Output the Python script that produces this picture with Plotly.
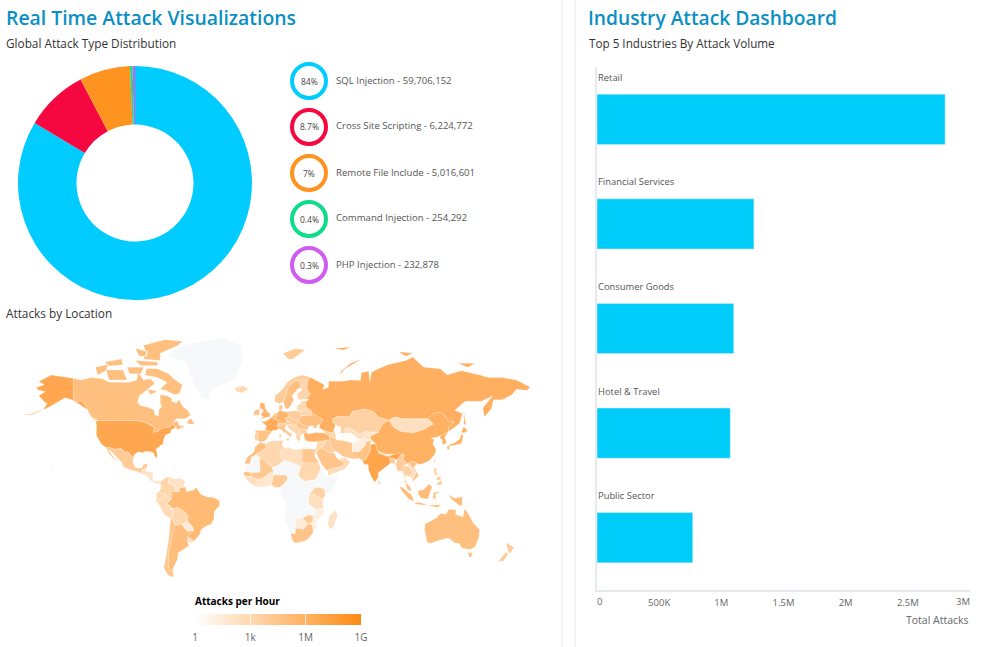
import math
import plotly.graph_objects as go

FONT = "Open Sans"
attack_types = ["SQL Injection", "Cross Site Scripting", "Remote File Include", "Command Injection", "PHP Injection"]
attack_counts = [59706152, 6224772, 5016601, 254292, 232878]
attack_pct = ["84%", "8.7%", "7%", "0.4%", "0.3%"]
attack_colors = ["#00ccff", "#f5073f", "#ff9320", "#0fdc8c", "#d05cf0"]

industries = ["Retail", "Financial Services", "Consumer Goods", "Hotel &amp; Travel", "Public Sector"]
industry_values = [2800000, 1262000, 1100000, 1072000, 770000]

# log10(attacks per hour) per country, read from the tint; None = no data. Outlines: "lon,lat ..." with | between parts.
map_data = [
("Canada",4.9,"-141,69.6 -135,69 -128,70 -120,69.5 -115,68 -108,68 -100,68 -95,69 -94,72 -90,69 -85,69.5 -82,67.5 -87,65 -93,62 -94.5,59 -92.5,57 -88,56.5 -82.5,55 -82,52.5 -79.5,51.3 -79,53 -79,55 -77,56.5 -78,59 -78,62.4 -73,62 -70,61 -69.5,59 -66,58.5 -64.5,60.2 -61.5,56.5 -58,54.5 -56,52 -60,50 -66,50 -69,48 -65,49 -65,47.5 -64,46 -61,46 -60,46.8 -61,45.5 -66,43.6 -66,45 -67.5,45.5 -69,47.3 -71,45.2 -75,45 -79,43.5 -79,42.8 -83,42 -82.5,45.3 -84.7,46.5 -89,48 -95,49 -123,49 -128,51 -130.5,54.5 -133,58 -135,59.5 -137.5,59 -141,60.3|-59,47.7 -56,50.5 -53,47 -56,47|-128,50.5 -123.5,48.5 -125,48.7|-80,73.5 -72,71.5 -67,69 -62,67 -64,63 -68,62.5 -74,64.5 -78,65 -73,68 -80,70 -89,71 -88,73.5|-117,73 -105,73 -102,69 -115,69|-125,74 -116,75 -117,73 -123,71|-90,77 -78,76.5 -78,79 -65,81.5 -62,82.7 -75,83.2 -90,81.5 -88,79|-96,76.5 -80,76 -80,74.7 -92,74.7|-102,74 -90,74 -92,71.5 -100,71.5|-118,76 -106,77 -105,75 -115,74.5|-87,65 -80,64 -85,62.5|-96,80.5 -87,79.5 -88,78 -93,78"),
("USA",6.7,"-123,49 -95,49 -89,48 -84.7,46.5 -82.5,45.3 -83,42 -79,42.8 -79,43.5 -75,45 -71,45.2 -69,47.3 -67.5,45.5 -67,44.8 -70,43.7 -70.5,41.7 -74,40.6 -75.5,38 -76,35 -81,31.5 -80,26.8 -80.5,25.2 -82,27 -83,29 -85,29.7 -89,30 -90,29 -94,29.6 -97,27.5 -97.2,26 -99.5,27.5 -101.5,29.8 -103,29 -106.5,31.8 -111,31.3 -114.8,32.5 -117.1,32.5 -120.5,34.5 -122.5,37.5 -124.3,40.4 -124,46 -124.7,48.4|-141,69.6 -141,60.3 -137.5,59 -135,59.5 -133,58 -130.5,55 -134,56.5 -137,58 -141,59.8 -147,61 -151,59.3 -153,58.5 -158,56.5 -163,54.8 -160,58 -162,59 -165,61 -166,62 -161,64 -166,64.5 -168,65.6 -162,67 -166,68.4 -157,71 -150,70.4|-176,52 -170,52.6 -164,54.5 -164,54.8 -170,53 -176,52.3"),
("Hawaii",3,"-156,20.5 -155,19.8 -155.5,19 -156,19.6"),
("Mexico",3.9,"-117.1,32.5 -114.8,32.5 -111,31.3 -106.5,31.8 -103,29 -101.5,29.8 -99.5,27.5 -97.2,26 -97.8,22.5 -96,19 -94,18.2 -91,18.8 -90.5,21 -87,21.5 -88,18.3 -89,17.8 -91,17.2 -91,16 -92.2,14.6 -95,16.2 -100,17 -105,19.5 -105.5,22 -109,25.5 -112.5,29.5 -114.5,31 -114.7,30 -110,24 -109.5,23 -112,25 -115,28.5"),
("Central America",2.2,"-92.2,14.6 -91,16 -91,17.2 -89,17.8 -88,18.3 -88.5,16 -84,15.8 -83.2,15 -83.7,11 -83,9.8 -81.5,9 -79.5,9.6 -77.5,8.7 -77.9,7.2 -80.5,7.3 -83,8.3 -85.7,10 -87.5,13 -91,14"),
("Puerto Rico",3,"-67.2,18.5 -65.7,18.4 -66,17.9 -67.2,18"),
("Colombia",3.2,"-77.5,8.7 -75,11 -72,12.2 -71.3,11 -72.5,7.5 -67.5,6.2 -67,1.5 -69.8,1 -69.8,-4.2 -73,-2.3 -75,-0.1 -78.8,1.4 -77.3,4 -77.9,7.2"),
("Venezuela",2.2,"-72,12.2 -68,11 -62,10.7 -60,8.5 -61,5 -64,4 -64,1.5 -67,1.5 -67.5,6.2 -72.5,7.5 -71.3,11"),
("Guianas",0.3,"-60,8.5 -57,6 -54,5.8 -51.6,4.2 -54,2.3 -59,1.3 -60,5 -61,5"),
("Ecuador",3,"-78.8,1.4 -75,-0.1 -75.5,-2 -78.5,-4.8 -80.3,-3.4 -81,-1 -80,0.5"),
("Peru",2.8,"-81.3,-4.5 -80.3,-3.4 -78.5,-4.8 -75.5,-2 -75,-0.1 -73,-2.3 -69.8,-4.2 -73,-7.3 -70.5,-11 -69,-12.5 -69.5,-17.5 -70.4,-18.3 -75,-15.5 -79,-8"),
("Bolivia",3,"-69,-10.9 -65.3,-10 -60,-13.5 -58,-16.3 -58,-20 -62.6,-22.2 -67,-23 -68.5,-20 -69.5,-17.5 -69,-12.5"),
("Paraguay",1.5,"-58,-20 -54.3,-24 -55,-27 -58.5,-27.2 -62.6,-22.2"),
("Chile",4.3,"-70.4,-18.3 -69.5,-17.5 -68.5,-20 -67,-23 -70,-33 -71.7,-40 -72,-50 -68.5,-52.3 -68.5,-55 -72,-54 -75.5,-50 -73.5,-42 -71.5,-30"),
("Argentina",5,"-67,-23 -62.6,-22.2 -58.5,-27.2 -55,-27 -53.8,-26.5 -58,-30.2 -58.3,-34 -57,-36.5 -62,-39 -65,-41 -65.5,-45 -69,-50.5 -68.5,-52.3 -72,-50 -71.7,-40 -70,-33"),
("Uruguay",2.4,"-58,-30.2 -53.5,-33.7 -55,-35 -58.3,-34"),
("Brazil",5.3,"-51.6,4.2 -50,1 -48,-1 -44,-2.5 -39,-3 -35,-5.3 -35,-8.5 -39,-13.5 -39,-18 -41,-22 -45,-23.5 -48.5,-26 -49,-28.7 -53.5,-33.7 -58,-30.2 -53.8,-26.5 -54.3,-24 -58,-20 -58,-16.3 -60,-13.5 -65.3,-10 -69,-10.9 -73,-7.3 -69.8,-4.2 -69.8,1 -67,1.5 -64,1.5 -64,4 -61,5 -60,5 -59,1.3 -54,2.3"),
("Greenland",None,"-73,78.2 -65,81 -50,82.5 -32,83.6 -20,81.7 -18,77 -22,72 -24,69.5 -33,67 -41,65 -43,60 -48,61 -53,66 -55,70 -60,76"),
("Iceland",3,"-24,65.5 -18,66.5 -14,65 -19,63.4 -22.5,64"),
("Svalbard",4,"11,79 20,80.5 27,80 18,77 15,77"),
("UK",5.6,"-5.5,50 1.4,51.2 1.7,52.8 0,53.6 -2,56 -2,57.6 -3.5,58.6 -5.5,58.5 -6,56 -3,54.5 -4.5,53.2 -5,52 -3,51.3"),
("Ireland",4.5,"-10,52 -6,52.2 -6,54 -6,55.2 -8.5,55 -10,54"),
("France",6.4,"-4.5,48.4 -1.5,48.7 1.5,50.1 2.5,51 4.2,49.9 8.2,49 7.5,47.5 6.8,46 7.5,43.8 3.1,43.1 3,42.4 -1.8,43.3 -1,46"),
("Spain",4.6,"-9.2,43.2 -1.8,43.3 3,42.4 0,39.5 -0.5,38 -2,36.8 -5.5,36 -7.4,37.2 -6.8,41.5 -8.8,42"),
("Portugal",3.8,"-8.8,42 -6.8,41.5 -7.4,37.2 -9,37 -9.5,38.8"),
("Benelux",4.8,"2.5,51 3.6,51.5 4.8,53 7,53.4 6,50.8 6,49.6 4.2,49.9"),
("Germany",5.6,"6,50.8 7,53.4 9,54.8 11,54 14.2,53.9 15,51 12.2,50.3 13.7,48.6 13,47.5 7.5,47.5 8.2,49 6,49.6"),
("Alps",3.8,"7.5,47.5 13,47.5 13.7,48.6 17,48.2 16.3,46.8 13.7,46.5 10.3,46.5 6.8,46"),
("Italy",4.2,"6.8,46 10.3,46.5 13.7,46.5 12.3,45 12.5,44 16,41.8 18.5,40.2 17,40.3 16.5,39 16,38 15.7,40 12.5,41.5 10.3,43 8.5,44.3 7.5,43.8|12.5,38 15.5,38.2 15,36.7|8.3,41 9.7,41 9.5,39 8.5,39"),
("Denmark",4.5,"8.2,55 8.2,57 10.5,57.6 10.5,55"),
("Norway",3.8,"5,59 5,62 10,64.5 14,68 19,70 25,71 31,70 29,69 25,69 20,69 15,66 12.5,61 11.2,59 8,58"),
("Sweden",4.8,"11.2,59 12.5,61 15,66 20,69 23.8,67.8 24,65.8 21.5,65 17.5,62 18.8,60 16.5,57 14.5,55.5 13,55.5"),
("Finland",3.2,"20,69 25,69 29,69 28.5,65 31,62.8 27.8,60.5 23,60 21.3,61 21.5,63 25,65 24,65.8 23.8,67.8"),
("Poland",3.8,"14.2,53.9 19,54.4 23.5,54 24,50.5 22.5,49.1 19,49.4 15,51"),
("Baltics",3,"21,56 21.8,57.5 24,58.2 23.5,59.2 28,59.5 27.5,57.5 28,56 26,54 23.5,54 21,55.2"),
("Belarus",3.2,"23.5,54 26,54 28,56 31,55 32.5,53 31,52 24,51.6"),
("Ukraine",4.9,"24,50.5 24,51.6 31,52 34,52.3 40,49.6 38,47 35,46 36,45 33.5,44.5 33,46 30.7,46 29.7,45.3 28,45.5 22.5,48 22.5,49.1"),
("Czech Slovak Hungary",3.8,"12.2,50.3 15,51 19,49.4 22.5,49.1 22.5,48 20.5,46.2 16.3,46.8 17,48.2 13.7,48.6"),
("Romania",4.5,"22.5,48 28,45.5 29.7,45.3 28.6,43.8 25,43.7 22.7,44.2 20.5,46.2"),
("Bulgaria",3.6,"22.7,44.2 25,43.7 28.6,43.8 28,42 26.3,41.3 23,41.3"),
("Balkans",3,"13.7,46.5 16.3,46.8 20.5,46.2 22.7,44.2 23,41.3 20.8,40.6 19.4,41.8 17,43 14.5,45.2"),
("Greece",3.5,"20.8,40.6 23,41.3 26.3,41.3 23.5,40.3 23.5,38 23,36.5 21.5,37 20.2,39.5"),
("Turkey",5.7,"26.3,41.3 28,42 29,41.2 35,42 41.5,41.5 44.7,39.7 44.5,37.2 36.2,36.3 30.5,36.3 27.3,37 26.3,39.5"),
("Caucasus",3.2,"41.5,41.5 40,43.4 46,42 48.5,41.8 49.5,40.3 48.8,38.5 44.7,39.7"),
("Russia",6.1,"28,59.5 30,60 27.8,60.5 31,62.8 28.5,65 29,69 31,70 41,67 40,64.7 44,66 44,68.5 54,68.5 60,69 67,68.8 68,72 73,72.5 74,68 75,72 80,73.5 87,75 100,76.5 105,77.7 113,74 125,73.5 130,71 140,72.7 150,71.5 160,70 170,70 180,69 190,66 188,64.5 180,65 177,62.5 170,60 163.5,60 162,55.5 156.8,51 155.8,56 163,62 155,59.3 143,59.3 135.5,54.7 141,53 139,47.5 132.5,43 130.7,42.3 131,45 135,48.4 130.5,48.9 126.5,53.3 120.5,53.3 116,50 107,50 98,50 92,51 87.5,49.2 80,51 76.5,54 70,55.3 61,54 59,51 51,51.5 47,50 47,48 49,46.5 47.5,43 48.5,41.8 46,42 40,43.4 37,45 38,47 40,49.6 34,52.3 31,52 32.5,53 31,55 28,56 27.5,57.5|142,54 143,50 143.5,46.5 142,47 142,51|52,71 56,73.5 68,77 60,75.5 53,72.5|95,79.5 105,79 100,78|48,80.5 60,81 55,80|138,75.5 150,75.5 145,74"),
("Kazakhstan",3.4,"47,50 51,51.5 59,51 61,54 70,55.3 76.5,54 80,51 87.5,49.2 83,47 80,42 71,42.5 66,41 61,44 56,45 56,41.5 52.5,41.5 53,45 49,46.5 47,48"),
("Turkmenistan",0.2,"52.5,41.5 56,41.5 60,42 66,38 64,36 61,35.5 54,37.4 53,40"),
("Uzbekistan",2.4,"56,41.5 56,45 61,44 66,41 71,42.5 71,40.5 68,37.5 66,38 60,42"),
("Kyrgyz Tajik",2,"71,42.5 80,42 74,39.5 75,37.3 68,37.5 71,40.5"),
("Mongolia",2.3,"87.5,49.2 92,51 98,50 107,50 116,50 120,47 112,43.5 105,41.7 96,42.7 91,45.2"),
("China",5.9,"74,39.5 80,42 83,47 87.5,49.2 91,45.2 96,42.7 105,41.7 112,43.5 120,47 116,50 120.5,53.3 126.5,53.3 130.5,48.9 135,48.4 131,45 130.7,42.3 125,40 121.5,39 118,39 120.5,37.5 119.5,35 122,31 121,28 117,23.5 110.5,21 108,21.6 105.5,23 101.7,21.2 98,24 98.7,28 92,28 85,28 79,30.5 78,35 75,37.3"),
("Korea",6,"125,40 130.7,42.3 128,39 129.5,36 128.5,35 126.3,34.5 126.6,37.5 125,38"),
("Japan",5.8,"130.8,34 135.5,35.7 139,38 140,41 141.5,40.5 141,37 140,35 136,34 132,33.5|140,42 141.8,45.5 145,43.3 143,42|129.8,33 131.5,33.8 131.5,31.3 130.3,31.2"),
("Taiwan",5,"120.2,23 121.5,25.2 121,22"),
("Philippines",3.8,"120.5,18.5 122.3,18.3 122,15.5 124,13 120.7,14|122,7 125.5,9.7 126.5,7 124,6|122,11.5 125.5,12.5 125,10 122.8,9.7"),
("Vietnam",4.8,"102,22.4 105.5,23 108,21.6 105.8,19 109.3,13 107,10.5 105,8.7 105,10.5 107.5,14.5 105,18.5 103,20.5"),
("Thailand",3.4,"98,20 101,20 105,15.5 102.5,12 100,13.5 99.5,10 101.5,6.8 99,8 99,12 98,16"),
("Myanmar",3.8,"92.5,21 94,24.5 97.5,28.3 98.7,28 98,24 101,21.5 98,20 98,16 99,12 97,16.5 94.3,16"),
("Laos Cambodia",2.4,"101,20 102,22.4 103,20.5 105,18.5 107.5,14.5 105,10.5 102.5,12 105,15.5"),
("Malaysia",4.8,"101.5,6.8 103.5,4 104,1.5 101,3 99.8,6.5"),
("Indonesia",5.1,"95.3,5.5 98,4 104,-1 106,-5.8 102,-4 97,2|105.5,-6.7 110,-6.5 114.5,-7.8 114,-8.6 108,-7.8|109,1.8 113,3 116.7,7 119,5 117.7,1 116,-4 111,-3.3 109,-0.3|119.5,-5.5 120,0.8 125,1.5 121,-0.8 122.5,-5 120.5,-3|131,-1 135,-3.3 141,-2.6 141,-9 138,-8.2 133,-4|116,-8.5 125,-8.3 123.5,-10.3"),
("PNG",0.2,"141,-2.6 148,-6 150.5,-10.5 144,-7.8 141,-9"),
("Australia",4.9,"114,-22 113.5,-26 115.5,-34.3 118,-35 124,-33 131,-31.5 135.5,-34.8 138.5,-35 140.5,-38 146.5,-39 150,-37.5 153,-31 153.5,-26 149,-21.5 145.5,-15 142.5,-11 141.5,-17 136,-15 136.5,-12 131,-11.5 129,-15 125,-14.5 122,-18|145,-41 148.3,-41 147.5,-43.5 146,-43.5"),
("New Zealand",3.8,"172.7,-34.5 178.5,-37.7 175.3,-41.5 174,-39.5|172.7,-40.5 174.3,-41.7 170.5,-46 167,-46"),
("India",6.8,"68.5,23.5 71,24.5 74.5,31 74,34.5 78,35 79,30.5 85,27 88,26.5 88.8,27.2 92,28 97,28.3 94,24.5 92.5,24 91.5,25.2 88,25.5 89,22 86.5,20 82,16.5 80,15 80,12 77.5,8 75,12 73,17 72.7,21 70,21"),
("Pakistan",4.6,"61,25 61,29.5 66,29.5 70,33.5 71.5,36.5 75,37.3 74,34.5 74.5,31 71,24.5 68.5,23.5 66.5,25.3"),
("Afghanistan",1.2,"61,29.5 61,35.5 64,36 66,38 68,37.5 75,37.3 71.5,36.5 70,33.5 66,29.5"),
("Iran",4.2,"44.7,39.7 48.8,38.5 50,37.3 54,37 61,35.5 61,25 57,26 54,26.7 50.5,29.5 48.5,30.2 46,33 44.5,37.2"),
("Iraq",3.8,"44.5,37.2 46,33 48.5,30.2 47,29 44.5,29.2 39,32.3 41,34.5 42.5,37.2"),
("Levant",3,"36.2,36.3 42.5,37.2 41,34.5 39,32.3 37,31.5 35,29.5 34.3,31.3 35.5,34"),
("Saudi Arabia",4.4,"35,29.5 37,31.5 39,32.3 44.5,29.2 47,29 48.5,28.3 50,25.5 51.5,24.5 55.5,22 55,20 52,19 49,18.5 43.5,17 42.7,16.5 39,21 36.5,26"),
("Yemen",2.6,"43.5,17 49,18.5 52,19 52.5,16.5 45,13 43.5,12.8"),
("Oman",2.8,"51.5,24.5 56,26 59.7,22.5 56,18 52.5,16.5 52,19 55,20 55.5,22"),
("Nepal",2.5,"80,30 88,27.5 88,26.5 80,28.5"),
("Bangladesh",4,"88,25.5 91.5,25.2 92.5,21.5 89,22"),
("Sri Lanka",3,"80,9.8 81.8,7.5 80.5,6 79.8,8"),
("Morocco",4.9,"-5.8,35.8 -2,35 -1.2,32.3 -8.7,27.7 -8.7,26 -12,26 -13,21.3 -17,21.4 -14.5,26.5 -10,29.5 -9.5,32.5"),
("Algeria",3,"-2,35 2,36.7 8.6,37 8,33 9.5,30 9.8,26 12,23.5 6,19.5 3.2,19 -4.8,25 -8.7,27.7 -1.2,32.3"),
("Tunisia",3.4,"8.6,37 11,37 10.2,34 11.5,32.5 9.5,30 8,33"),
("Libya",2.4,"11.5,32.5 15,32.3 20,31 25,31.7 25,20 24,19.5 15,23 12,23.5 9.8,26 9.5,30"),
("Egypt",4.2,"25,31.7 31,31.5 34.3,31.3 34,27 37,22 25,22"),
("Sudan",3,"24,20 25,22 37,22 38.5,18 36.5,14 34.5,10 27,9 23.5,11 22,14"),
("Mauritania",None,"-17,21.4 -13,21.3 -12,26 -8.7,27.7 -4.8,25 -6,25 -5.5,15.5 -12,15 -16.5,16"),
("Mali",4.2,"-4.8,25 3.2,19 4,15 1,15 -3,11.5 -5.5,10.5 -8,10.5 -12,12.5 -12,15 -5.5,15.5 -6,25"),
("Senegal",4.6,"-16.5,16 -12,15 -12,12.5 -16.7,12.4 -17.5,14.7"),
("Guinea",2.4,"-16.7,12.4 -12,12.5 -8,10.5 -7.5,4.5 -12,7 -15,10"),
("Ivory Coast Ghana",1.8,"-8,10.5 -5.5,10.5 -3,11.5 1,15 4,15 3.5,11.5 2.7,6.3 -2,4.8 -7.5,4.5"),
("Nigeria",4,"2.7,6.3 3.5,11.5 4,13.5 13.5,13.5 14.5,11 11.5,6.5 8.7,4.5 5.5,4.5"),
("Niger",None,"3.2,19 6,19.5 12,23.5 15,23 15.5,16 13.5,13.5 4,13.5 4,15"),
("Chad",None,"15,23 24,19.5 22,14 23.5,11 19,9 15.5,7.5 14.5,11 13.5,13.5 15.5,16"),
("Central Africa",None,"8.7,4.5 11.5,6.5 14.5,11 15.5,7.5 19,9 23.5,11 27,9 34.5,10 34,4 30,-1 29.5,-6 30,-8 28,-12 22,-11 13,-9 12,-5 9,-1 9.8,3"),
("Horn of Africa",None,"36.5,14 38.5,18 43,12 51,12 48,5 41.5,-1.7 41,3.5 36,4.5 34,4 34.5,10"),
("Kenya Uganda",3.5,"34,4 36,4.5 41,3.5 41.5,-1.7 39.5,-4.6 34,-1 30,-1"),
("Tanzania",2.4,"30,-1 34,-1 39.5,-4.6 40.4,-10.5 34.5,-11.5 30,-8 29.5,-6"),
("Angola Zambia Namibia",None,"13,-9 22,-11 28,-12 30,-8 34.5,-11.5 35,-15 30,-15.5 25,-17.8 20,-18 20,-28.7 16.5,-28.5 12,-18 13.7,-11"),
("Zimbabwe",4,"25,-17.8 30,-15.5 33,-16.5 32.5,-21 29,-22"),
("Mozambique",1.2,"34.5,-11.5 40.4,-10.5 40.5,-15 35,-20 35.5,-24 32.8,-26.5 32.5,-21 33,-16.5 30,-15.5 35,-15"),
("Botswana",1.5,"20,-18 25,-17.8 29,-22 25.5,-25.7 20,-25"),
("South Africa",4.5,"16.5,-28.5 20,-28.7 20,-25 25.5,-25.7 29,-22 32,-22.3 32.8,-26.5 32.5,-28.5 28,-33 25,-34 20,-34.8 18.3,-34"),
("Madagascar",2.2,"49.3,-12 50.5,-16 47,-25 45,-25.5 43.5,-22 44.5,-16.5"),
]

colorbar_ticks = [0, 3, 6, 9]
colorbar_labels = ["1", "1k", "1M", "1G"]
LOW, HIGH = (255, 255, 255), (255, 138, 20)
NODATA = "#f7f8f9"

def tint(z):
    if z is None:
        return NODATA
    t = z / 9
    return "rgb(%d,%d,%d)" % tuple(LOW[i] + (HIGH[i] - LOW[i]) * t for i in range(3))

def miller(lat):
    return math.degrees(1.25 * math.log(math.tan(math.pi / 4 + 0.4 * math.radians(lat))))

# colour ramp with the hairline white separators the legend shows at 1k and 1M
ramp = [[0, tint(0)]]
for tick in colorbar_ticks[1:-1]:
    ramp += [[(tick - 0.04) / 9, tint(tick)], [tick / 9, "#ffffff"], [(tick + 0.04) / 9, tint(tick)]]
ramp.append([1, tint(9)])

fig = go.Figure()
fig.add_trace(go.Pie(values=attack_counts, labels=attack_types, hole=0.5, sort=False, direction="clockwise",
                     rotation=0, marker=dict(colors=attack_colors), textinfo="none", showlegend=False,
                     domain=dict(x=[18/984, 252/984], y=[1-300/647, 1-66/647])))
fig.add_trace(go.Bar(x=industry_values, y=industries, orientation="h", marker_color="#00ccf9", width=0.48,
                     xaxis="x", yaxis="y", showlegend=False))
for name, z, outline in map_data:
    xs, ys = [], []
    for part in outline.split("|"):
        for pair in part.split():
            lon, lat = map(float, pair.split(","))
            xs.append(lon)
            ys.append(miller(lat))
        xs.append(None)
        ys.append(None)
    fig.add_trace(go.Scatter(x=xs, y=ys, xaxis="x2", yaxis="y2", mode="lines", fill="toself", fillcolor=tint(z),
                             line=dict(color="rgba(255,255,255,0.55)", width=0.4), name=name, showlegend=False, hoverinfo="name"))
fig.add_trace(go.Scatter(x=[None], y=[None], xaxis="x2", yaxis="y2", mode="markers", showlegend=False, hoverinfo="skip",
    marker=dict(color=[0, 9], cmin=0, cmax=9, colorscale=ramp, showscale=True,
        colorbar=dict(orientation="h", x=195/984, xanchor="left", xpad=0, ypad=0, y=1-614/647, yanchor="top", len=166, lenmode="pixels",
                      thickness=11, outlinewidth=0, tickvals=colorbar_ticks, ticktext=colorbar_labels, ticks="outside",
                      ticklen=4, tickcolor="rgba(255,255,255,0)", tickwidth=1,
                      tickfont=dict(size=10, color="#666666", family=FONT)))))

ann = []
def text(x, y, s, size, color, xanchor="left", weight=None):
    f = dict(size=size, color=color, family=FONT)
    if weight:
        f["weight"] = weight
    shift = {"left": -2, "right": 2, "center": 0}[xanchor]
    ann.append(dict(xref="paper", yref="paper", x=x/984, y=1-y/647, text=s, showarrow=False, xanchor=xanchor,
                    yanchor="middle", xshift=shift, font=f))
text(6, 18, "Real Time Attack Visualizations", 19.4, "#0a8fc4", weight=600)
text(588, 18, "Industry Attack Dashboard", 19.2, "#0a8fc4", weight=600)
text(6, 43, "Global Attack Type Distribution", 11.8, "#333333")
text(6, 313, "Attacks by Location", 11.8, "#333333")
text(589, 43, "Top 5 Industries By Attack Volume", 11.7, "#333333")
text(195, 601, "<b>Attacks per Hour</b>", 10, "#000000")
shapes = []
for i, (n, c, p, col) in enumerate(zip(attack_types, attack_counts, attack_pct, attack_colors)):
    cy = 81 + i * 46
    shapes.append(dict(type="circle", xref="paper", yref="paper", x0=292/984, x1=326/984, y0=1-(cy+17)/647, y1=1-(cy-17)/647,
                       line=dict(color=col, width=4)))
    text(309, cy, p, 8.5, "#444444", "center")
    text(336, cy - 1, f"{n} - {c:,}", 9.6, "#555555")
for x in (562, 575):
    shapes.append(dict(type="line", xref="paper", yref="paper", x0=x/984, x1=x/984, y0=0, y1=1, line=dict(color="#e6e6e6", width=1)))
for n in industries:
    ann.append(dict(xref="x", yref="y", x=0, y=n, text=n, showarrow=False, xanchor="left", yanchor="middle", xshift=-1, yshift=42,
                    font=dict(size=9.4, color="#555555", family=FONT)))
text(969, 620, "Total Attacks", 10.5, "#666666", "right")
ann.append(dict(xref="x", yref="paper", x=0, y=1-601/647, text="0", showarrow=False, xshift=2, yanchor="middle", font=dict(size=9.5, color="#666666", family=FONT)))
ann.append(dict(xref="x", yref="paper", x=3000000, y=1-601/647, text="3M", showarrow=False, xshift=-7, yanchor="middle", font=dict(size=9.5, color="#666666", family=FONT)))

fig.update_layout(width=984, height=647, margin=dict(l=0,r=0,t=0,b=0), paper_bgcolor="white", plot_bgcolor="white",
    font=dict(family=FONT), annotations=ann, shapes=shapes, bargap=0.52,
    xaxis=dict(domain=[597/984, 970/984], range=[0,3000000], anchor="y", showgrid=False, zeroline=False,
               tickvals=[500000,1000000,1500000,2000000,2500000], ticktext=["500K","1M","1.5M","2M","2.5M"],
               tickfont=dict(size=9.5, color="#666666"), showline=True, linecolor="#e6e9f0", linewidth=2, ticks="outside", ticklen=3, tickcolor="rgba(0,0,0,0)"),
    yaxis=dict(domain=[1-590/647, 1-67/647], autorange="reversed", anchor="x", showticklabels=False, showgrid=False, zeroline=False,
               showline=True, linecolor="#e6e9f0", linewidth=2, ticks=""),
    xaxis2=dict(domain=[20/984, 540/984], range=[-179.6, 197.2], anchor="y2", visible=False),
    yaxis2=dict(domain=[1-585/647, 1-330/647], range=[-67, 119.7], anchor="x2", visible=False))
fig.write_html("out.html", config=dict(displayModeBar=False), post_script="document.body.style.margin='0';document.body.style.overflow='hidden';")
